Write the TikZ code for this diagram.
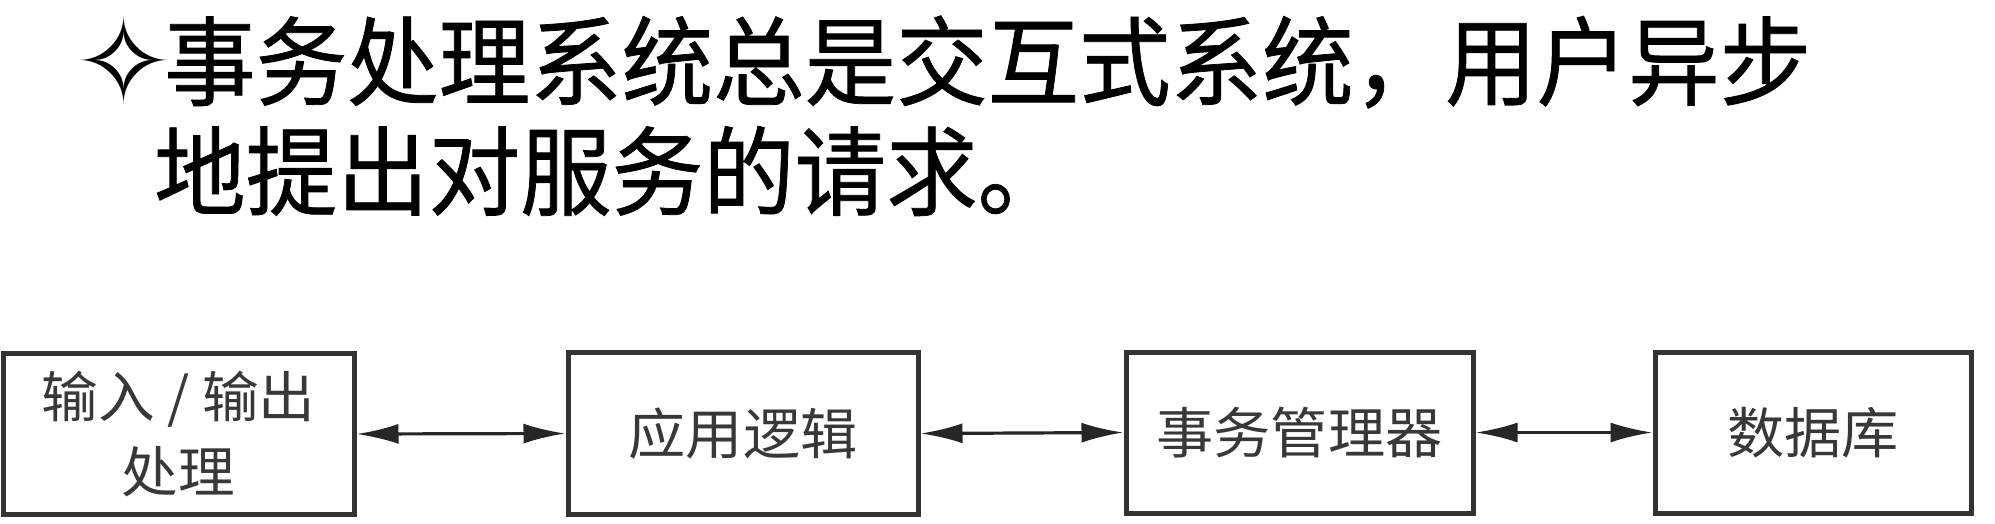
\documentclass[tikz,border=0pt]{standalone}
\usepackage{fontspec}
\usepackage{graphicx}
\setmainfont{Noto Sans CJK SC}
\newfontfamily\titlefont[FakeBold=0.8]{Noto Sans CJK SC}
\newfontfamily\symfont{DejaVu Sans}
\usetikzlibrary{arrows.meta}
\begin{document}
\begin{tikzpicture}[x=1pt,y=-1pt,
 titletext/.style={anchor=west,inner sep=0pt,font=\titlefont\fontsize{91.5pt}{91.5pt}\selectfont},
 boxnode/.style={draw=black!80,line width=5pt,inner sep=0pt,font=\fontsize{55pt}{75pt}\selectfont,text=black!78,align=center},
 link/.style={line width=3.2pt,draw=black!85,{Latex[length=42pt,width=20pt]}-{Latex[length=42pt,width=20pt]}}
]
\useasboundingbox[fill=white] (0,0) rectangle (1995,523);
\node[inner sep=0pt,font=\symfont\fontsize{118pt}{118pt}\selectfont] (star) at (123.5,60.5) {✧};
\node[titletext] (l1) at (164,62) {\scalebox{1}[1.06]{事务处理系统总是交互式系统，用户异步}};
\node[titletext] (l2) at (154,171) {\scalebox{1}[1.06]{地提出对服务的请求。}};
\node[boxnode,minimum width=351pt,minimum height=161pt] (io) at (178.5,434) {\scalebox{1.03}[1]{输入 / 输出}\\\scalebox{1.03}[1]{处理}};
\node[boxnode,minimum width=350pt,minimum height=162pt] (app) at (743,433.5) {\scalebox{1.04}[1]{应用逻辑}};
\node[boxnode,minimum width=347pt,minimum height=161pt] (tm) at (1299.5,432.5) {\scalebox{1.04}[1]{事务管理器}};
\node[boxnode,minimum width=316pt,minimum height=161pt] (db) at (1813,432.5) {\scalebox{1.04}[1]{数据库}};
\draw[link] (io.east) -- (app.west);
\draw[link] (app.east) -- (tm.west);
\draw[link] (tm.east) -- (db.west);
\end{tikzpicture}
\end{document}
